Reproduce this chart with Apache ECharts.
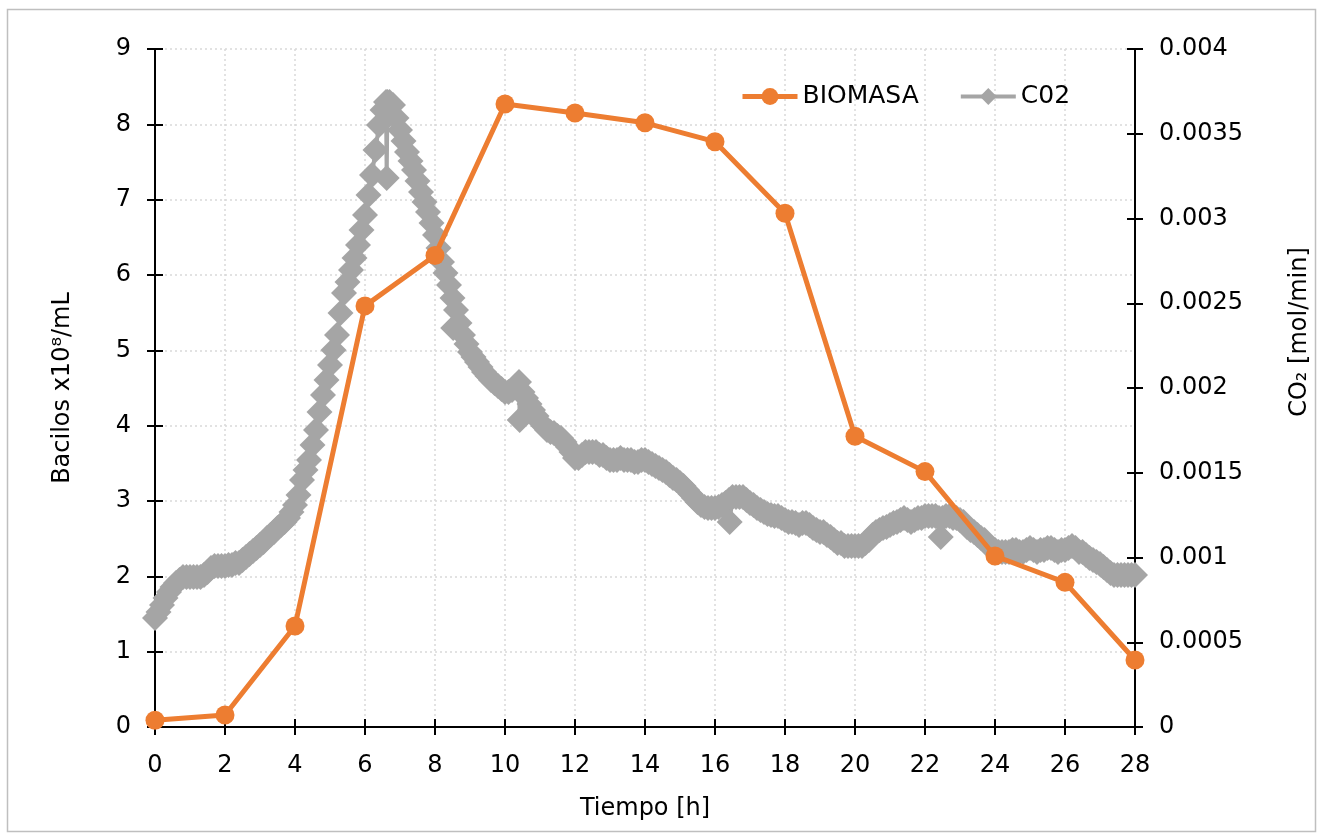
<!DOCTYPE html>
<html>
<head>
<meta charset="utf-8">
<title>Biomasa y CO2</title>
<script src="https://cdn.jsdelivr.net/npm/echarts@6/dist/echarts.min.js"></script>
<style>
  html, body { margin: 0; padding: 0; background: #fff; }
  #chart_container { width: 1323px; height: 838px; }
</style>
</head>
<body>
<div id="chart_container"></div>
<script>
  // BIOMASA (Bacilos x10^8/mL)
  const horas = [0, 2, 4, 6, 8, 10, 12, 14, 16, 18, 20, 22, 24, 26, 28]
  const biomasa = [0.09, 0.16, 1.34, 5.59, 6.26, 8.27, 8.15, 8.02, 7.77, 6.82, 3.86, 3.39, 2.27, 1.92, 0.89]

  // C02, horas de muestreo
  const co2Horas = [
    0.0, 0.1, 0.2, 0.3, 0.4, 0.5, 0.6, 0.7, 0.8, 0.9,
    1.0, 1.1, 1.2, 1.3, 1.4, 1.5, 1.6, 1.7, 1.8, 1.9,
    2.0, 2.1, 2.2, 2.3, 2.4, 2.5, 2.6, 2.7, 2.8, 2.9,
    3.0, 3.1, 3.2, 3.3, 3.4, 3.5, 3.6, 3.7, 3.8, 3.9,
    4.0, 4.1, 4.2, 4.3, 4.4, 4.5, 4.6, 4.7, 4.8, 4.9,
    5.0, 5.1, 5.2, 5.3, 5.4, 5.5, 5.6, 5.7, 5.8, 5.9,
    6.0, 6.1, 6.2, 6.3, 6.4, 6.5, 6.6, 6.62, 6.64, 6.7, 6.8, 6.9,
    7.0, 7.1, 7.2, 7.3, 7.4, 7.5, 7.6, 7.7, 7.8, 7.9,
    8.0, 8.1, 8.2, 8.3, 8.4, 8.5, 8.52, 8.6, 8.7, 8.8, 8.9,
    9.0, 9.1, 9.2, 9.3, 9.4, 9.5, 9.6, 9.7, 9.8, 9.9,
    10.0, 10.1, 10.2, 10.3, 10.4, 10.42, 10.5, 10.6, 10.7, 10.8, 10.9,
    11.0, 11.1, 11.2, 11.3, 11.4, 11.5, 11.6, 11.7, 11.8, 11.9,
    12.0, 12.1, 12.2, 12.3, 12.4, 12.5, 12.6, 12.7, 12.8, 12.9,
    13.0, 13.1, 13.2, 13.3, 13.4, 13.5, 13.6, 13.7, 13.8, 13.9,
    14.0, 14.1, 14.2, 14.3, 14.4, 14.5, 14.6, 14.7, 14.8, 14.9,
    15.0, 15.1, 15.2, 15.3, 15.4, 15.5, 15.6, 15.7, 15.8, 15.9,
    16.0, 16.1, 16.2, 16.3, 16.4, 16.42, 16.5, 16.6, 16.7, 16.8, 16.9,
    17.0, 17.1, 17.2, 17.3, 17.4, 17.5, 17.6, 17.7, 17.8, 17.9,
    18.0, 18.1, 18.2, 18.3, 18.4, 18.5, 18.6, 18.7, 18.8, 18.9,
    19.0, 19.1, 19.2, 19.3, 19.4, 19.5, 19.6, 19.7, 19.8, 19.9,
    20.0, 20.1, 20.2, 20.3, 20.4, 20.5, 20.6, 20.7, 20.8, 20.9,
    21.0, 21.1, 21.2, 21.3, 21.4, 21.5, 21.6, 21.7, 21.8, 21.9,
    22.0, 22.1, 22.2, 22.3, 22.4, 22.45, 22.5, 22.6, 22.7, 22.8, 22.9,
    23.0, 23.1, 23.2, 23.3, 23.4, 23.5, 23.6, 23.7, 23.8, 23.9,
    24.0, 24.1, 24.2, 24.3, 24.4, 24.5, 24.6, 24.7, 24.8, 24.9,
    25.0, 25.1, 25.2, 25.3, 25.4, 25.5, 25.6, 25.7, 25.8, 25.9,
    26.0, 26.1, 26.2, 26.3, 26.4, 26.5, 26.6, 26.7, 26.8, 26.9,
    27.0, 27.1, 27.2, 27.3, 27.4, 27.5, 27.6, 27.7, 27.8, 27.9,
    28.0
  ]
  // C02 en unidades de 1e-4 mol/min (mismo orden que co2Horas)
  const co2Valores = [
    6.43, 6.78, 7.20, 7.61, 7.96, 8.26, 8.50, 8.67, 8.85, 8.85,
    8.85, 8.85, 8.85, 8.85, 8.97, 9.14, 9.38, 9.50, 9.50, 9.50,
    9.50, 9.56, 9.56, 9.68, 9.68, 9.85, 10.03, 10.21, 10.38, 10.56,
    10.74, 10.91, 11.15, 11.33, 11.50, 11.74, 11.92, 12.09, 12.33, 12.68,
    13.10, 13.69, 14.57, 15.16, 15.75, 16.64, 17.52, 18.58, 19.59, 20.47,
    21.36, 22.24, 23.13, 24.42, 25.60, 26.25, 26.96, 27.67, 28.44, 29.32,
    30.21, 31.39, 32.57, 34.04, 35.52, 36.40, 36.87, 32.39, 36.87, 36.87, 36.70, 35.93,
    35.22, 34.57, 33.92, 33.39, 32.86, 32.21, 31.56, 30.97, 30.38, 29.73,
    29.03, 28.26, 27.43, 26.78, 26.08, 25.31, 23.54, 24.60, 23.84, 23.13, 22.60,
    22.12, 21.83, 21.53, 21.24, 20.94, 20.71, 20.47, 20.29, 20.12, 19.94,
    19.76, 19.76, 19.88, 20.12, 20.35, 18.11, 19.76, 19.41, 19.06, 18.70, 18.35,
    17.99, 17.76, 17.52, 17.40, 17.35, 17.17, 17.05, 16.81, 16.52, 16.22,
    15.87, 15.87, 16.05, 16.22, 16.22, 16.22, 16.22, 16.05, 16.05, 15.87,
    15.75, 15.75, 15.75, 15.87, 15.75, 15.75, 15.75, 15.63, 15.63, 15.75,
    15.75, 15.63, 15.52, 15.40, 15.28, 15.16, 15.04, 14.87, 14.69, 14.57,
    14.40, 14.22, 13.98, 13.75, 13.51, 13.27, 13.10, 12.98, 12.92, 12.92,
    12.92, 12.98, 13.10, 13.22, 13.39, 12.09, 13.57, 13.57, 13.57, 13.57, 13.39,
    13.22, 13.10, 12.92, 12.80, 12.68, 12.57, 12.51, 12.45, 12.45, 12.33,
    12.21, 12.09, 12.09, 12.04, 11.92, 12.04, 12.04, 11.92, 11.74, 11.62,
    11.50, 11.50, 11.33, 11.21, 11.03, 10.86, 10.86, 10.68, 10.68, 10.68,
    10.68, 10.68, 10.68, 10.86, 11.03, 11.33, 11.50, 11.62, 11.74, 11.80,
    11.92, 12.04, 12.09, 12.21, 12.33, 12.21, 12.09, 12.21, 12.33, 12.33,
    12.45, 12.45, 12.45, 12.45, 12.33, 11.21, 12.33, 12.45, 12.45, 12.33, 12.33,
    12.21, 12.09, 11.80, 11.62, 11.50, 11.33, 11.15, 11.03, 10.74, 10.56,
    10.44, 10.32, 10.32, 10.32, 10.32, 10.44, 10.44, 10.32, 10.32, 10.44,
    10.56, 10.44, 10.32, 10.44, 10.44, 10.56, 10.56, 10.44, 10.32, 10.44,
    10.44, 10.56, 10.68, 10.56, 10.32, 10.32, 10.15, 9.97, 9.85, 9.73,
    9.62, 9.44, 9.26, 9.09, 8.97, 8.97, 8.97, 8.97, 8.97, 8.97,
    8.97
  ]

  const fuente = 'DejaVu Sans'
  const tam = 24
  const gridLinea = { color: '#D9D9D9', width: 1.5, type: [2, 3] }
  const tickNegro = { color: '#000', width: 2 }

  let chart = echarts.init(document.getElementById('chart_container'), null, { renderer: 'canvas' })

  chart.setOption({
    animation: false,
    backgroundColor: '#fff',
    textStyle: { fontFamily: fuente, color: '#000' },
    graphic: [
      {
        type: 'rect',
        shape: { x: 7.5, y: 9.5, width: 1308, height: 822 },
        style: { fill: 'none', stroke: '#BFBFBF', lineWidth: 1.5 },
        silent: true
      },
      {
        type: 'text',
        x: 1300,
        y: 332,
        rotation: Math.PI / 2,
        style: {
          text: 'CO₂ [mol/min]',
          font: tam + 'px ' + fuente,
          fill: '#000',
          align: 'center',
          verticalAlign: 'middle'
        }
      }
    ],
    legend: {
      data: [
        { name: 'BIOMASA', lineStyle: { width: 5 } },
        { name: 'C02', lineStyle: { width: 4 } }
      ],
      left: 740,
      top: 84,
      padding: 0,
      itemWidth: 55,
      itemHeight: 21,
      itemGap: 40,
      textStyle: { fontFamily: fuente, fontSize: 25, color: '#000' }
    },
    grid: { left: 155, right: 188, top: 49, bottom: 111 },
    xAxis: [
      {
        type: 'value',
        min: 0,
        max: 28,
        interval: 2,
        name: 'Tiempo [h]',
        nameLocation: 'middle',
        nameGap: 70,
        nameTextStyle: { fontFamily: fuente, fontSize: tam, color: '#000' },
        axisLine: { onZero: false, lineStyle: { color: '#000', width: 2 } },
        axisTick: { length: 8, lineStyle: tickNegro },
        axisLabel: { margin: 27, fontFamily: fuente, fontSize: tam, color: '#000' },
        splitLine: { show: true, lineStyle: gridLinea }
      },
      {
        // ticks hacia dentro (marca en cruz)
        type: 'value',
        min: 0,
        max: 28,
        interval: 2,
        position: 'bottom',
        axisLine: { show: false, onZero: false },
        axisTick: { inside: true, length: 8, lineStyle: tickNegro },
        axisLabel: { show: false },
        splitLine: { show: false }
      }
    ],
    yAxis: [
      {
        type: 'value',
        min: 0,
        max: 9,
        interval: 1,
        position: 'left',
        name: 'Bacilos x10⁸/mL',
        nameLocation: 'middle',
        nameGap: 80,
        nameRotate: 90,
        nameTextStyle: { fontFamily: fuente, fontSize: tam, color: '#000' },
        axisLine: { show: true, onZero: false, lineStyle: { color: '#000', width: 2 } },
        axisTick: { show: true, length: 8, lineStyle: tickNegro },
        axisLabel: { margin: 24, fontFamily: fuente, fontSize: tam, color: '#000' },
        splitLine: { show: true, lineStyle: gridLinea }
      },
      {
        type: 'value',
        min: 0,
        max: 0.004,
        interval: 0.0005,
        position: 'right',
        axisLine: { show: true, onZero: false, lineStyle: { color: '#000', width: 2 } },
        axisTick: { show: true, length: 8, lineStyle: tickNegro },
        axisLabel: { margin: 24, fontFamily: fuente, fontSize: tam, color: '#000' },
        splitLine: { show: false }
      },
      {
        type: 'value',
        min: 0,
        max: 9,
        interval: 1,
        position: 'left',
        axisLine: { show: false, onZero: false },
        axisTick: { show: true, inside: true, length: 8, lineStyle: tickNegro },
        axisLabel: { show: false },
        splitLine: { show: false }
      },
      {
        type: 'value',
        min: 0,
        max: 0.004,
        interval: 0.0005,
        position: 'right',
        axisLine: { show: false, onZero: false },
        axisTick: { show: true, inside: true, length: 8, lineStyle: tickNegro },
        axisLabel: { show: false },
        splitLine: { show: false }
      }
    ],
    series: [
      {
        name: 'C02',
        type: 'line',
        yAxisIndex: 1,
        z: 2,
        data: co2Horas.map((h, i) => [h, co2Valores[i] / 10000]),
        symbol: 'diamond',
        symbolSize: 26,
        showAllSymbol: true,
        lineStyle: { color: '#A5A5A5', width: 4 },
        itemStyle: { color: '#A5A5A5', borderWidth: 0 }
      },
      {
        name: 'BIOMASA',
        type: 'line',
        yAxisIndex: 0,
        z: 3,
        data: horas.map((h, i) => [h, biomasa[i]]),
        symbol: 'circle',
        symbolSize: 19,
        lineStyle: { color: '#ED7D31', width: 5 },
        itemStyle: { color: '#ED7D31', borderWidth: 0 }
      }
    ]
  })
</script>
</body>
</html>
